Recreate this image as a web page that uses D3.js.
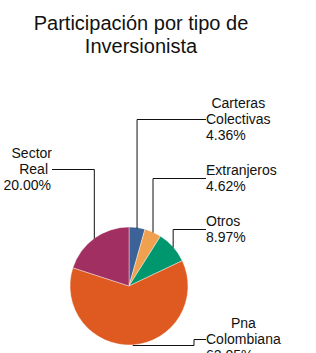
<!DOCTYPE html>
<html><head><meta charset="utf-8">
<script src="https://cdn.jsdelivr.net/npm/d3@7"></script>
<style>body{margin:0;background:#fff}svg{display:block}text{font-family:"Liberation Sans",Arial,sans-serif;fill:#111}</style>
</head><body>
<svg id="c" width="316" height="353"></svg>
<script>
const titleLines = ["Participación por tipo de", "Inversionista"];
const categories = [["Carteras","Colectivas"], ["Extranjeros"], ["Otros"], ["Pna","Colombiana"], ["Sector","Real"]];
const values = [4.36, 4.62, 8.97, 62.05, 20.00];
const colors = ["#3b6398", "#f0a150", "#00976f", "#df5a20", "#a22f61"];
// label layout: side, text x, block middle y
const labelLayout = [
  {side:"r", x:206, y:119},
  {side:"r", x:206, y:178},
  {side:"r", x:206, y:229},
  {side:"r", x:206, y:339, elbow:194},
  {side:"l", x:52,  y:169}
];

const svg = d3.select("#c");
const cx = 129, cy = 286, r = 59;

svg.selectAll("text.title").data(titleLines).join("text")
  .attr("class","title").attr("x",141).attr("y",(d,i)=>30+i*23)
  .attr("text-anchor","middle").style("font-size","20px").text(d=>d);

const pie = d3.pie().sort(null).value(d=>d)(values);
const arc = d3.arc().innerRadius(0).outerRadius(r);
const g = svg.append("g").attr("transform",`translate(${cx},${cy})`);
g.selectAll("path").data(pie).join("path")
  .attr("d",arc).attr("fill",(d,i)=>colors[i])
  .attr("stroke","#fff").attr("stroke-width",0.4);

const lineH = 16;
pie.forEach((d,i)=>{
  const a = (d.startAngle+d.endAngle)/2;
  const px = cx + r*Math.sin(a), py = cy - r*Math.cos(a);
  const L = labelLayout[i];
  const lines = categories[i];
  const nLines = lines.length + 1;
  const top = L.y - nLines*lineH/2;
  let pts;
  if (L.side==="r") {
    if (L.elbow) pts = [[px,py],[L.elbow,py],[L.elbow,L.y],[L.x,L.y]];
    else pts = [[px,py],[px,L.y],[L.x,L.y]];
  } else {
    pts = [[px,py],[px,L.y],[L.x,L.y]];
  }
  svg.append("path").attr("d", d3.line()(pts.map(p=>[p[0], Math.round(p[1])+0.5])))
    .attr("fill","none").attr("stroke","#111").attr("stroke-width",1);

  const tg = svg.append("g");
  const texts = lines.map((t,j)=> tg.append("text").style("font-size","14px")
      .attr("y", top + 13 + j*lineH).text(t));
  const widths = texts.map(t=>t.node().getComputedTextLength());
  const maxW = d3.max(widths);
  const pct = d3.format(".2f")(values[i]) + "%";
  const pt = tg.append("text").style("font-size","14px")
      .attr("y", top + 13 + lines.length*lineH).text(pct);
  if (L.side==="r") {
    texts.forEach((t,j)=> t.attr("x", L.x + maxW/2).attr("text-anchor","middle"));
    pt.attr("x", L.x);
  } else {
    texts.forEach((t,j)=> t.attr("x", L.x - (j===lines.length-1 && lines.length>1 ? 4 : 0)).attr("text-anchor","end"));
    pt.attr("x", L.x - 1).attr("text-anchor","end");
  }
});
</script>
</body></html>
